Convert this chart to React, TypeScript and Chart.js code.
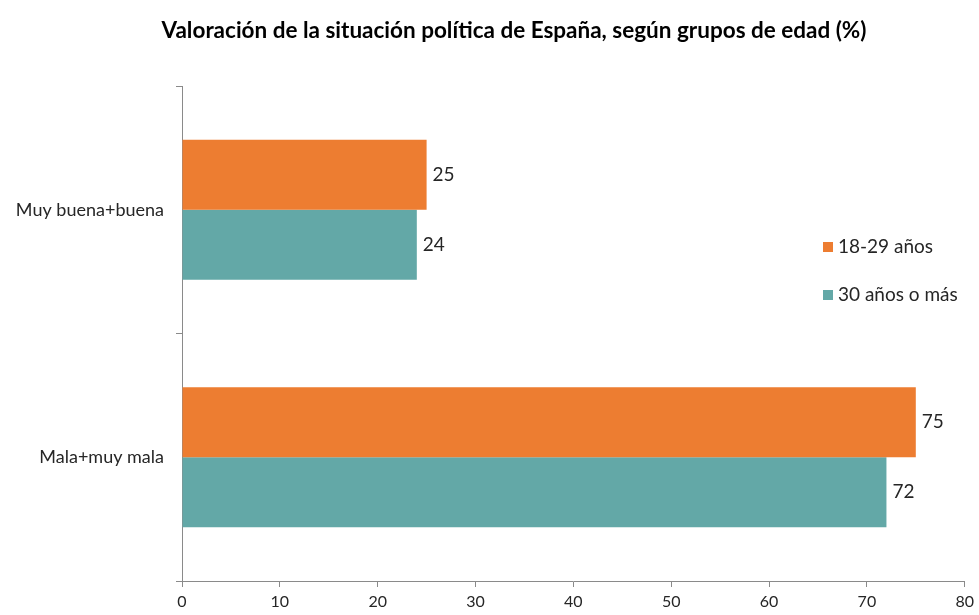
import React, { useEffect, useRef } from "react";
import { Chart, registerables } from "chart.js";

Chart.register(...registerables);

const TITLE = "Valoración de la situación política de España, según grupos de edad (%)";
const categories = ["Muy buena+buena", "Mala+muy mala"];
const seriesNames = ["18-29 años", "30 años o más"];
const young = [25, 75];
const older = [24, 72];
const xTicks = [0, 10, 20, 30, 40, 50, 60, 70, 80];
const colors = ["#ED7D31", "#63A8A7"];

const FONT = "Lato, 'Open Sans', sans-serif";

export default function App() {
  const ref = useRef<HTMLCanvasElement>(null);
  useEffect(() => {
    document.body.style.margin = "0";
    const canvas = ref.current!;
    const overlay = {
      id: "overlay",
      afterDatasetsDraw(chart: any) {
        const ctx = chart.ctx;
        ctx.save();
        // value labels
        ctx.font = `19px ${FONT}`;
        ctx.fillStyle = "#262626";
        ctx.textAlign = "left";
        ctx.textBaseline = "middle";
        chart.data.datasets.forEach((ds: any, i: number) => {
          const meta = chart.getDatasetMeta(i);
          meta.data.forEach((bar: any, j: number) => {
            ctx.fillText(String(ds.data[j]), bar.x + 6, bar.y);
          });
        });
        // title
        ctx.font = `bold 22.5px ${FONT}`;
        ctx.fillStyle = "#000";
        ctx.textAlign = "center";
        ctx.fillText(TITLE, 514, 31);
        // legend
        ctx.font = `19px ${FONT}`;
        ctx.textAlign = "left";
        const ys = [247, 295];
        chart.data.datasets.forEach((ds: any, i: number) => {
          ctx.fillStyle = ds.backgroundColor;
          ctx.fillRect(823, ys[i] - 5, 10, 10);
          ctx.fillStyle = "#262626";
          ctx.fillText(ds.label, 838, ys[i]);
        });
        ctx.restore();
      },
    };
    const chart = new Chart(canvas, {
      type: "bar",
      data: {
        labels: categories,
        datasets: [
          { label: seriesNames[0], data: young, backgroundColor: colors[0], categoryPercentage: 0.565, barPercentage: 1 },
          { label: seriesNames[1], data: older, backgroundColor: colors[1], categoryPercentage: 0.565, barPercentage: 1 },
        ],
      },
      options: {
        indexAxis: "y",
        responsive: false,
        animation: false,
        layout: { padding: { top: 86, right: 13, left: 0, bottom: 0 } },
        plugins: { legend: { display: false }, title: { display: false }, tooltip: { enabled: false } },
        scales: {
          x: {
            min: 0,
            max: 80,
            afterBuildTicks(scale: any) {
              scale.ticks = xTicks.map((v) => ({ value: v }));
            },
            afterFit(scale: any) {
              scale.height = 34;
            },
            border: { color: "#8a8a8a", width: 1 },
            grid: { drawOnChartArea: false, drawTicks: true, tickLength: 6, color: "#8a8a8a" },
            ticks: { color: "#262626", font: { family: FONT, size: 16 }, padding: 5, maxRotation: 0 },
          },
          y: {
            afterFit(scale: any) {
              scale.width = 182;
            },
            border: { color: "#8a8a8a", width: 1 },
            grid: { drawOnChartArea: false, drawTicks: true, tickLength: 6, color: "#8a8a8a", offset: true },
            ticks: { color: "#262626", font: { family: FONT, size: 18 }, padding: 12 },
          },
        },
      },
      plugins: [overlay],
    });
    return () => chart.destroy();
  }, []);
  return (
    <div style={{ position: "absolute", left: 0, top: 0, width: 979, height: 615, background: "#fff" }}>
      <canvas ref={ref} width={979} height={615} />
    </div>
  );
}
